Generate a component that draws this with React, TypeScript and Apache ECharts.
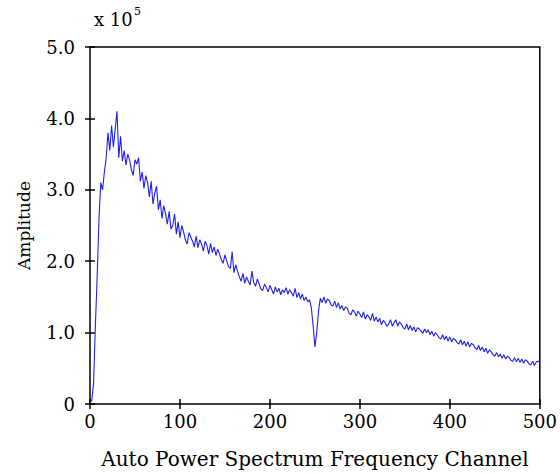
import React, { useEffect, useRef } from "react";
import * as echarts from "echarts";

// Amplitude (x 10^5) sampled every 2 frequency channels, channel 0..500
const channelStep = 2;
const amp000 = [0.02, 0.05, 0.3, 1.1, 1.8, 2.6, 3.1, 3.0, 3.25, 3.45];
const amp020 = [3.8, 3.55, 3.9, 3.6, 3.85, 4.1, 3.45, 3.75, 3.4, 3.55];
const amp040 = [3.35, 3.5, 3.42, 3.28, 3.2, 3.42, 3.36, 3.45, 3.12, 3.25];
const amp060 = [3.02, 3.2, 3.1, 2.9, 3.12, 2.8, 2.95, 3.05, 2.72, 2.86];
const amp080 = [2.6, 2.78, 2.66, 2.52, 2.7, 2.45, 2.5, 2.66, 2.38, 2.55];
const amp100 = [2.33, 2.5, 2.41, 2.3, 2.24, 2.4, 2.34, 2.28, 2.2, 2.35];
const amp120 = [2.19, 2.3, 2.24, 2.14, 2.28, 2.22, 2.1, 2.25, 2.12, 2.2];
const amp140 = [2.08, 2.17, 2.1, 2.02, 1.97, 2.09, 2.0, 1.92, 1.9, 2.13];
const amp160 = [1.84, 1.95, 1.86, 1.78, 1.72, 1.83, 1.69, 1.78, 1.72, 1.67];
const amp180 = [1.86, 1.7, 1.65, 1.75, 1.68, 1.61, 1.59, 1.68, 1.63, 1.57];
const amp200 = [1.66, 1.6, 1.54, 1.64, 1.57, 1.62, 1.53, 1.6, 1.56, 1.63];
const amp220 = [1.54, 1.6, 1.56, 1.51, 1.62, 1.49, 1.56, 1.47, 1.54, 1.45];
const amp240 = [1.5, 1.43, 1.46, 1.35, 1.1, 0.8, 1.0, 1.3, 1.48, 1.42];
const amp260 = [1.5, 1.41, 1.47, 1.45, 1.39, 1.37, 1.44, 1.35, 1.42, 1.33];
const amp280 = [1.38, 1.31, 1.36, 1.34, 1.27, 1.25, 1.32, 1.29, 1.23, 1.3];
const amp300 = [1.26, 1.21, 1.29, 1.19, 1.25, 1.22, 1.17, 1.27, 1.16, 1.22];
const amp320 = [1.15, 1.2, 1.11, 1.17, 1.14, 1.09, 1.12, 1.18, 1.09, 1.14];
const amp340 = [1.18, 1.09, 1.15, 1.12, 1.07, 1.05, 1.12, 1.04, 1.1, 1.03];
const amp360 = [1.08, 1.01, 1.07, 1.05, 1.02, 0.99, 1.05, 1.0, 1.04, 0.97];
const amp380 = [1.02, 0.95, 1.0, 0.97, 0.93, 0.91, 0.97, 0.9, 0.95, 0.88];
const amp400 = [0.94, 0.87, 0.92, 0.9, 0.86, 0.84, 0.9, 0.83, 0.88, 0.81];
const amp420 = [0.87, 0.8, 0.85, 0.83, 0.79, 0.76, 0.82, 0.75, 0.8, 0.73];
const amp440 = [0.78, 0.71, 0.76, 0.73, 0.69, 0.67, 0.72, 0.66, 0.7, 0.64];
const amp460 = [0.69, 0.63, 0.67, 0.65, 0.61, 0.6, 0.65, 0.59, 0.64, 0.58];
const amp480 = [0.63, 0.57, 0.62, 0.6, 0.56, 0.55, 0.6, 0.54, 0.59, 0.6];
const amp500 = [0.58];

const amplitudes = [
  ...amp000, ...amp020, ...amp040, ...amp060, ...amp080, ...amp100, ...amp120,
  ...amp140, ...amp160, ...amp180, ...amp200, ...amp220, ...amp240, ...amp260,
  ...amp280, ...amp300, ...amp320, ...amp340, ...amp360, ...amp380, ...amp400,
  ...amp420, ...amp440, ...amp460, ...amp480, ...amp500,
];

const xTicks = [0, 100, 200, 300, 400, 500];
const yTicks = [0, 1, 2, 3, 4, 5];

const FONT = "'DejaVu Serif', 'Liberation Serif', serif";

const mkLine = () => ({ show: false });
const mkTick = () => ({ show: true, inside: true, length: 5, lineStyle: { color: "#000", width: 1.5 } });

export default function App() {
  const ref = useRef<HTMLDivElement>(null);
  useEffect(() => {
    if (!ref.current) return;
    const chart = echarts.init(ref.current, null, { renderer: "svg" });
    const data = amplitudes.map((v, i) => [i * channelStep, v]);
    chart.setOption({
      animation: false,
      backgroundColor: "#fff",
      grid: {
        left: 90,
        right: 19,
        top: 47,
        bottom: 70,
        containLabel: false,
        show: true,
        borderColor: "#000",
        borderWidth: 1.5,
        backgroundColor: "transparent",
      },
      xAxis: [
        {
          type: "value",
          min: xTicks[0],
          max: xTicks[xTicks.length - 1],
          interval: 100,
          position: "bottom",
          axisLine: mkLine(),
          axisTick: mkTick(),
          splitLine: { show: false },
          axisLabel: { color: "#000", fontFamily: FONT, fontSize: 18, margin: 8 },
          name: "Auto Power Spectrum Frequency Channel",
          nameLocation: "middle",
          nameGap: 45,
          nameTextStyle: { color: "#000", fontFamily: FONT, fontSize: 20 },
        },
        {
          type: "value",
          min: 0,
          max: 500,
          interval: 100,
          position: "top",
          axisLine: mkLine(),
          axisTick: mkTick(),
          splitLine: { show: false },
          axisLabel: { show: false },
        },
      ],
      yAxis: [
        {
          type: "value",
          min: yTicks[0],
          max: yTicks[yTicks.length - 1],
          interval: 1,
          position: "left",
          axisLine: mkLine(),
          axisTick: mkTick(),
          splitLine: { show: false },
          axisLabel: {
            color: "#000",
            fontFamily: FONT,
            fontSize: 18,
            margin: 15,
            formatter: (v: number) => (v === 0 ? "0" : v.toFixed(1)),
          },
          name: "Amplitude",
          nameLocation: "middle",
          nameGap: 58,
          nameRotate: 90,
          nameTextStyle: { color: "#000", fontFamily: FONT, fontSize: 17 },
        },
        {
          type: "value",
          min: 0,
          max: 5,
          interval: 1,
          position: "right",
          axisLine: mkLine(),
          axisTick: mkTick(),
          splitLine: { show: false },
          axisLabel: { show: false },
        },
      ],
      graphic: [
        {
          type: "text",
          left: 94,
          top: 10,
          style: { text: "x 10", font: `18px ${FONT}`, fill: "#000" },
        },
        {
          type: "text",
          left: 134,
          top: 6,
          style: { text: "5", font: `11px ${FONT}`, fill: "#000" },
        },
      ],
      series: [
        {
          type: "line",
          data,
          xAxisIndex: 0,
          yAxisIndex: 0,
          showSymbol: false,
          symbol: "none",
          lineStyle: { color: "#2020ee", width: 1.1 },
          z: 1,
        },
      ],
    });
    return () => chart.dispose();
  }, []);
  return (
    <div
      ref={ref}
      style={{ position: "fixed", left: 0, top: 0, width: 560, height: 474 }}
    />
  );
}
